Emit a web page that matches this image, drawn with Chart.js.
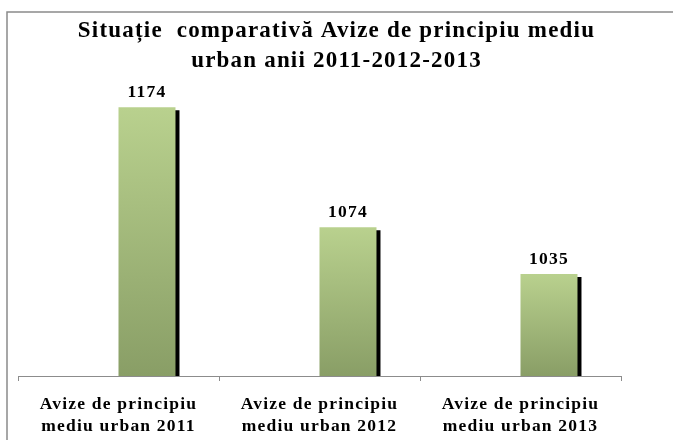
<!DOCTYPE html>
<html>
<head>
<meta charset="utf-8">
<script src="https://cdn.jsdelivr.net/npm/chart.js@4.4.1/dist/chart.umd.min.js"></script>
<style>
  html, body { margin: 0; padding: 0; background: #fff; }
  #wrap { width: 673px; height: 440px; }
</style>
</head>
<body>
<div id="wrap"><canvas id="chart" width="673" height="440"></canvas></div>
<script>
"use strict";

const TITLE_LINES = [
  "Situație  comparativă Avize de principiu mediu",
  "urban anii 2011-2012-2013",
];
const CATEGORIES = [
  ["Avize de principiu", "mediu urban 2011"],
  ["Avize de principiu", "mediu urban 2012"],
  ["Avize de principiu", "mediu urban 2013"],
];
const VALUES = [1174, 1074, 1035];
// empty first series, the bars sit right of the category centre
const SPACER = [null, null, null];
const Y_MIN = 950;
const Y_MAX = 1200;

const SERIF = "'Liberation Serif', 'Times New Roman', serif";
const BAR_TOP = "#b9d18e";
const BAR_BOTTOM = "#899e66";
const AXIS_GRAY = "#8c8c8c";
const SPACING = "1.2px";

function barGradient(context) {
  const chart = context.chart;
  const area = chart.chartArea;
  if (!area || context.raw == null) {
    return BAR_TOP;
  }
  const top = chart.scales.y.getPixelForValue(context.raw);
  const g = chart.ctx.createLinearGradient(0, top, 0, area.bottom);
  g.addColorStop(0, BAR_TOP);
  g.addColorStop(1, BAR_BOTTOM);
  return g;
}

// text in the picture is a bit wide, so space the letters out
const spacingPlugin = {
  id: "letterSpacing",
  beforeUpdate(chart) {
    chart.ctx.letterSpacing = SPACING;
  },
  beforeDraw(chart) {
    const ctx = chart.ctx;
    ctx.letterSpacing = SPACING;
    // gray frame round the chart
    ctx.save();
    ctx.strokeStyle = "#8a8a8a";
    ctx.lineWidth = 1.5;
    ctx.strokeRect(7, 12, 700, 500);
    ctx.restore();
  },
};

const shadowPlugin = {
  id: "barShadow",
  beforeDatasetsDraw(chart) {
    const ctx = chart.ctx;
    ctx.save();
    ctx.shadowColor = "#000";
    ctx.shadowOffsetX = 4;
    ctx.shadowOffsetY = 3;
    ctx.shadowBlur = 0;
  },
  afterDatasetsDraw(chart) {
    chart.ctx.restore();
  },
};

const valueLabelPlugin = {
  id: "valueLabels",
  afterDatasetsDraw(chart) {
    const ctx = chart.ctx;
    const meta = chart.getDatasetMeta(1);
    ctx.save();
    ctx.font = "bold 17.5px " + SERIF;
    ctx.fillStyle = "#000";
    ctx.textAlign = "center";
    ctx.textBaseline = "alphabetic";
    meta.data.forEach(function (bar, i) {
      ctx.fillText(String(VALUES[i]), bar.x, bar.y - 10);
    });
    ctx.restore();
  },
};

new Chart(document.getElementById("chart"), {
  type: "bar",
  data: {
    labels: CATEGORIES,
    datasets: [
      {
        label: "",
        data: SPACER,
      },
      {
        label: "Avize de principiu mediu urban",
        data: VALUES,
        backgroundColor: barGradient,
        borderWidth: 0,
      },
    ],
  },
  options: {
    responsive: false,
    animation: false,
    categoryPercentage: 0.567,
    barPercentage: 1.0,
    layout: { padding: 0 },
    plugins: {
      legend: { display: false },
      tooltip: { enabled: false },
      title: {
        display: true,
        text: TITLE_LINES,
        color: "#000",
        font: { family: SERIF, size: 23, weight: "bold", lineHeight: 30 / 23 },
        padding: { top: 16, bottom: 0 },
      },
    },
    scales: {
      x: {
        offset: true,
        grid: {
          display: true,
          offset: true,
          drawOnChartArea: false,
          drawTicks: true,
          tickLength: 5,
          color: AXIS_GRAY,
        },
        border: { display: true, color: AXIS_GRAY, width: 1 },
        ticks: {
          color: "#000",
          font: { family: SERIF, size: 17.5, weight: "bold", lineHeight: 22 / 17.5 },
          padding: 12,
          maxRotation: 0,
          autoSkip: false,
        },
        afterFit(scale) {
          scale.height = 64;
        },
      },
      y: {
        display: true,
        min: Y_MIN,
        max: Y_MAX,
        ticks: { display: false },
        grid: { display: false },
        border: { display: false },
        afterFit(scale) {
          scale.width = 18;
        },
      },
      yRight: {
        display: true,
        position: "right",
        ticks: { display: false },
        grid: { display: false },
        border: { display: false },
        afterFit(scale) {
          scale.width = 52;
        },
      },
    },
  },
  plugins: [spacingPlugin, shadowPlugin, valueLabelPlugin],
});
</script>
</body>
</html>
